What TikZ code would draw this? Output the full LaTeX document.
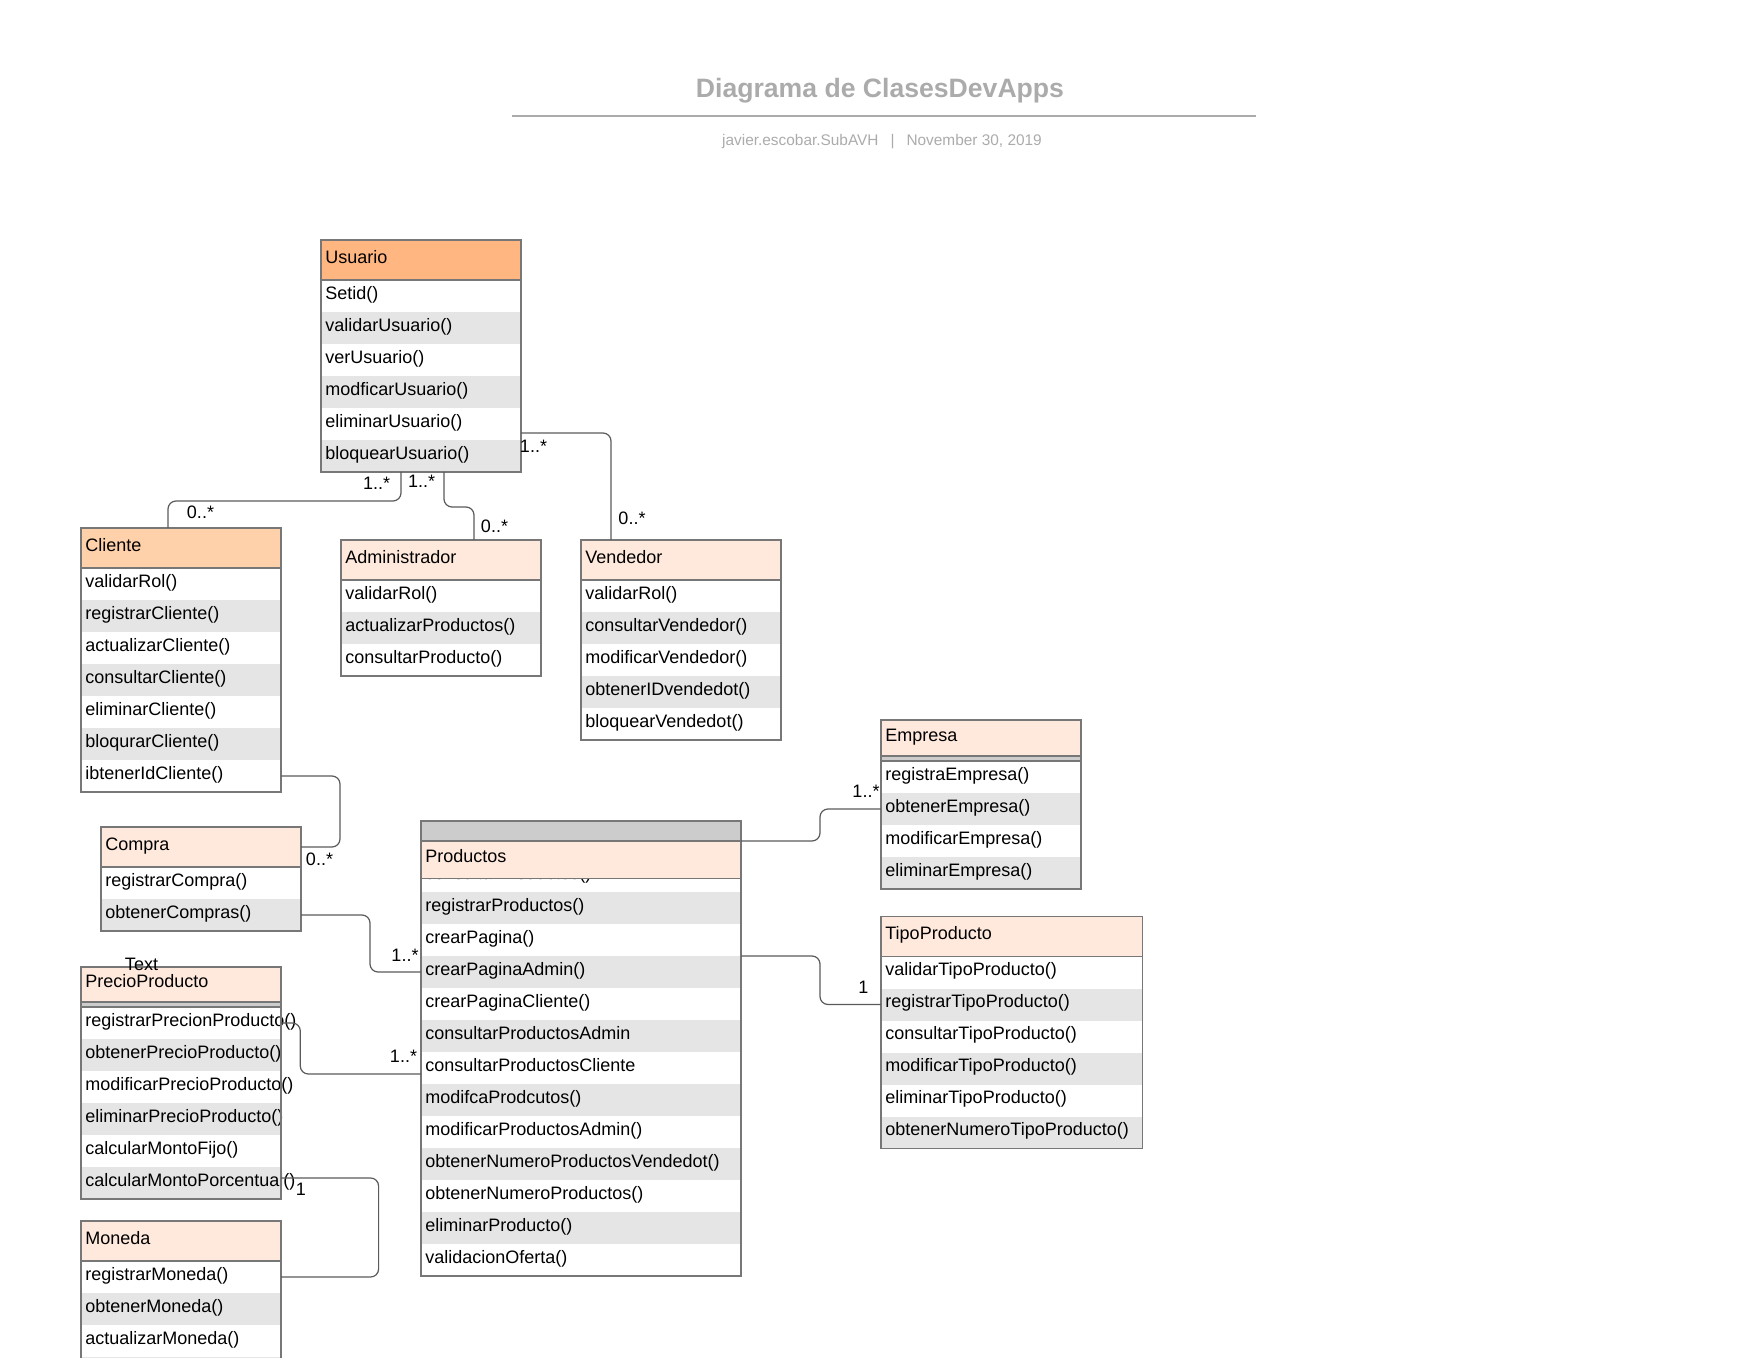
\documentclass[tikz,border=0pt]{standalone}
\usepackage{fontspec}
\setmainfont{Liberation Sans}
\usetikzlibrary{calc}
\definecolor{HdUsu}{HTML}{FFB681}
\definecolor{HdCli}{HTML}{FFD1AB}
\definecolor{HdPale}{HTML}{FFE9DC}
\definecolor{RowGray}{HTML}{E5E5E5}
\definecolor{BandGray}{HTML}{CCCCCC}
\definecolor{Border}{HTML}{777777}
\definecolor{Wire}{HTML}{5A5A5A}
\definecolor{Caption}{HTML}{ABABAB}
\newcommand{\rowfont}{\fontsize{9}{11}\selectfont}
% one row per method, white and gray in turn
\newcommand{\methodrows}[4]{%
  \foreach \m [count=\i] in {#4} {%
    \ifodd\i \def\rowfill{white}\else \def\rowfill{RowGray}\fi
    \node[mrow,#3,fill=\rowfill] (#1-\i) at ($(#2)+(0,32*\i-32)$) {\m};
  }}
\tikzset{
  hd/.style={anchor=north west,inner xsep=2.2pt,inner ysep=0pt,outer sep=0pt,align=left,font=\rowfont,
    text height=6.4pt,text depth=3.2pt,minimum height=20pt},
  mrow/.style={hd,minimum height=16pt},
  band/.style={hd,fill=BandGray,text height=0pt,text depth=0pt,minimum height=2.5pt},
  w100/.style={minimum width=100pt,text width=95.6pt},
  w131/.style={minimum width=130.8pt,text width=126.4pt},
  w160/.style={minimum width=160pt,text width=155.6pt},
  frame/.style={draw=Border,line width=.6pt},
  assoc/.style={draw=Wire,line width=.6pt,rounded corners=4pt},
  mult/.style={font=\rowfont,inner sep=0pt}
}
\begin{document}
\begin{tikzpicture}[x=.5pt,y=-.5pt]
  \useasboundingbox (0,0) rectangle (1758,1358);
  \clip (0,0) rectangle (1758,1358);

  % heading
  \node[font=\fontsize{13.3}{16}\selectfont\bfseries,text=Caption] (title) at (880,91) {Diagrama de ClasesDevApps};
  \draw[draw=Caption,line width=1pt] (512,116.5) -- (1256,116.5);
  \node[font=\fontsize{7.7}{9}\selectfont,text=Caption] (byline) at (882,142) {javier.escobar.SubAVH\hspace{6pt}|\hspace{6pt}November 30, 2019};

  % Usuario
  \node[hd,w100,fill=HdUsu] (usu) at (321,240) {Usuario};
  \methodrows{usu}{usu.south west}{w100}{Setid(),validarUsuario(),verUsuario(),modficarUsuario(),eliminarUsuario(),bloquearUsuario()}
  \draw[frame] (usu.north west) rectangle (usu-6.south east) (usu.south west) -- (usu.south east);

  % Cliente
  \node[hd,w100,fill=HdCli] (cli) at (81,528) {Cliente};
  \methodrows{cli}{cli.south west}{w100}{validarRol(),registrarCliente(),actualizarCliente(),consultarCliente(),eliminarCliente(),bloqurarCliente(),ibtenerIdCliente()}
  \draw[frame] (cli.north west) rectangle (cli-7.south east) (cli.south west) -- (cli.south east);

  % Administrador
  \node[hd,w100,fill=HdPale] (adm) at (341,540) {Administrador};
  \methodrows{adm}{adm.south west}{w100}{validarRol(),actualizarProductos(),consultarProducto()}
  \draw[frame] (adm.north west) rectangle (adm-3.south east) (adm.south west) -- (adm.south east);

  % Vendedor
  \node[hd,w100,fill=HdPale] (ven) at (581,540) {Vendedor};
  \methodrows{ven}{ven.south west}{w100}{validarRol(),consultarVendedor(),modificarVendedor(),obtenerIDvendedot(),bloquearVendedot()}
  \draw[frame] (ven.north west) rectangle (ven-5.south east) (ven.south west) -- (ven.south east);

  % Empresa
  \node[hd,w100,fill=HdPale,minimum height=18pt] (emp) at (881,720) {Empresa};
  \node[band,w100] (empband) at (emp.south west) {};
  \methodrows{emp}{empband.south west}{w100}{registraEmpresa(),obtenerEmpresa(),modificarEmpresa(),eliminarEmpresa()}
  \draw[frame] (emp.north west) rectangle (emp-4.south east) (emp.south west) -- (emp.south east) (empband.south west) -- (empband.south east);

  % Compra
  \node[hd,w100,fill=HdPale] (com) at (101,827) {Compra};
  \methodrows{com}{com.south west}{w100}{registrarCompra(),obtenerCompras()}
  \draw[frame] (com.north west) rectangle (com-2.south east) (com.south west) -- (com.south east);

  % Productos
  \methodrows{pro}{421,860}{w160}{consultarProductos(),registrarProductos(),crearPagina(),crearPaginaAdmin(),crearPaginaCliente(),consultarProductosAdmin,consultarProductosCliente,modifcaProdcutos(),modificarProductosAdmin(),obtenerNumeroProductosVendedot(),obtenerNumeroProductos(),eliminarProducto(),validacionOferta()}
  \node[band,w160,minimum height=10pt] (proband) at (421,821) {};
  \node[hd,w160,fill=HdPale,minimum height=18.75pt] (pro) at (421,841) {Productos};
  \draw[frame] (proband.north west) rectangle (pro-13.south east) (pro.north west) -- (pro.north east) (pro.south west) -- (pro.south east);

  % TipoProducto
  \node[hd,w131,fill=HdPale] (tip) at (881,916.5) {TipoProducto};
  \methodrows{tip}{tip.south west}{w131}{validarTipoProducto(),registrarTipoProducto(),consultarTipoProducto(),modificarTipoProducto(),eliminarTipoProducto(),obtenerNumeroTipoProducto()}
  \draw[frame] (tip.north west) rectangle (tip-6.south east) (tip.south west) -- (tip.south east);

  % PrecioProducto
  \node[hd,w100,fill=HdPale,minimum height=17.5pt] (pre) at (81,967) {PrecioProducto};
  \node[band,w100] (preband) at (pre.south west) {};
  \methodrows{pre}{preband.south west}{w100}{registrarPrecionProducto(),obtenerPrecioProducto(),modificarPrecioProducto(),eliminarPrecioProducto(),calcularMontoFijo(),calcularMontoPorcentual()}
  \draw[frame] (pre.north west) rectangle (pre-6.south east) (pre.south west) -- (pre.south east) (preband.south west) -- (preband.south east);
  \node[mult] (stray) at (141.5,964) {Text};

  % Moneda
  \node[hd,w100,fill=HdPale] (mon) at (81,1221) {Moneda};
  \methodrows{mon}{mon.south west}{w100}{registrarMoneda(),obtenerMoneda(),actualizarMoneda(),{}}
  \draw[frame] (mon.north west) rectangle (mon-4.south east) (mon.south west) -- (mon.south east);

  % associations
  \draw[assoc] ($(usu-6.south west)+(80,0)$) -- ++(0,29) -| ($(cli.north west)+(87,0)$);
  \draw[assoc] ($(usu-6.south west)+(123,0)$) -- ++(0,35) -| ($(adm.north west)+(133,0)$);
  \draw[assoc] ($(usu-5.south east)+(0,-7)$) -| ($(ven.north west)+(30,0)$);
  \draw[assoc] (cli-7.east) -- ++(59,0) |- (com.east);
  \draw[assoc] (com-2.east) -- ++(69,0) |- (pro-4.west);
  \draw[assoc] (pre-1.east) -- ++(19.3,0) |- ($(pro-7.west)+(0,6)$);
  \draw[assoc] ($(pre-6.east)+(0,-5)$) -- ++(97.6,0) |- (mon-1.east);
  \draw[assoc] (pro.north east) -- ++(79,0) |- (emp-2.west);
  \draw[assoc] (pro-3.south east) -- ++(79,0) |- (tip-2.west);

  % multiplicities
  \node[mult] (m-uc) at (376.7,483.5) {1..*};
  \node[mult] (m-cu) at (200.5,512.5) {0..*};
  \node[mult] (m-ua) at (421.6,481) {1..*};
  \node[mult] (m-au) at (494.5,526) {0..*};
  \node[mult] (m-uv) at (533.5,446) {1..*};
  \node[mult] (m-vu) at (632,518.5) {0..*};
  \node[mult] (m-cc) at (319.5,859.5) {0..*};
  \node[mult] (m-cp) at (405,955) {1..*};
  \node[mult] (m-pp) at (403.5,1056) {1..*};
  \node[mult] (m-pm) at (301,1189.5) {1};
  \node[mult] (m-pe) at (866,791.5) {1..*};
  \node[mult] (m-pt) at (863.3,987.3) {1};
\end{tikzpicture}
\end{document}
